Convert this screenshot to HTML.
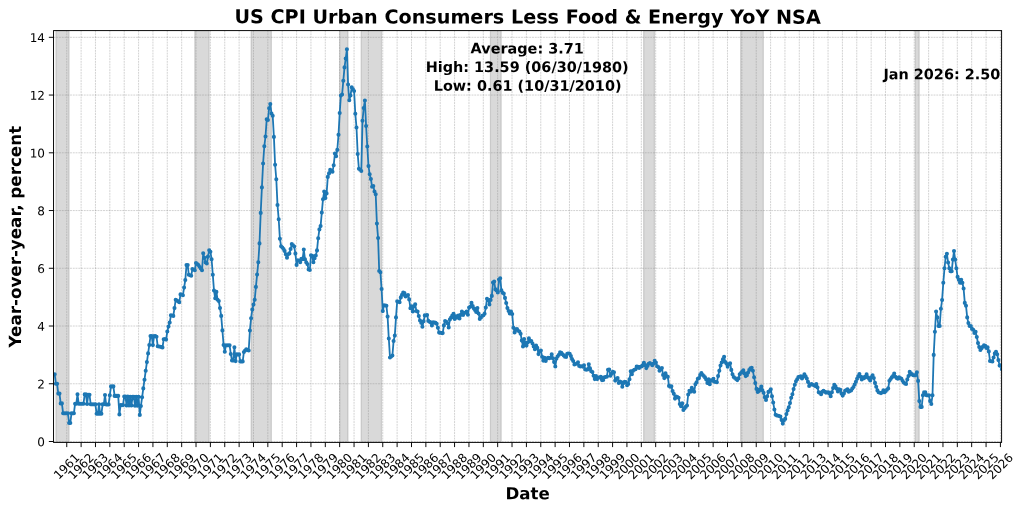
<!DOCTYPE html>
<html lang="en"><head><meta charset="utf-8"><title>US CPI Urban Consumers Less Food &amp; Energy YoY NSA</title>
<style>html,body{margin:0;padding:0;background:#fff}body{width:1024px;height:511px;overflow:hidden}svg{display:block}text{font-family:'DejaVu Sans','Liberation Sans',sans-serif;fill:#000;text-rendering:geometricPrecision}.b{font-weight:bold}.t{font-size:12.03px}</style></head><body>
<svg width="1024" height="511" viewBox="0 0 1024 511">
<rect width="1024" height="511" fill="#fff"/>
<defs><clipPath id="ax"><rect x="53.55" y="30.6" width="948.05" height="411.80"/></clipPath><filter id="bl" x="-2%" y="-2%" width="104%" height="104%"><feGaussianBlur stdDeviation="0.4"/></filter><filter id="bg" x="-2%" y="-2%" width="104%" height="104%"><feGaussianBlur stdDeviation="0.6"/></filter></defs>
<g clip-path="url(#ax)">
<rect x="55.95" y="30.6" width="13.10" height="411.80" fill="#808080" fill-opacity="0.3" stroke="#808080" stroke-opacity="0.3" stroke-width="1.2"/>
<rect x="194.81" y="30.6" width="14.31" height="411.80" fill="#808080" fill-opacity="0.3" stroke="#808080" stroke-opacity="0.3" stroke-width="1.2"/>
<rect x="251.09" y="30.6" width="20.25" height="411.80" fill="#808080" fill-opacity="0.3" stroke="#808080" stroke-opacity="0.3" stroke-width="1.2"/>
<rect x="339.65" y="30.6" width="8.34" height="411.80" fill="#808080" fill-opacity="0.3" stroke="#808080" stroke-opacity="0.3" stroke-width="1.2"/>
<rect x="361.16" y="30.6" width="20.33" height="411.80" fill="#808080" fill-opacity="0.3" stroke="#808080" stroke-opacity="0.3" stroke-width="1.2"/>
<rect x="490.43" y="30.6" width="10.74" height="411.80" fill="#808080" fill-opacity="0.3" stroke="#808080" stroke-opacity="0.3" stroke-width="1.2"/>
<rect x="643.65" y="30.6" width="10.78" height="411.80" fill="#808080" fill-opacity="0.3" stroke="#808080" stroke-opacity="0.3" stroke-width="1.2"/>
<rect x="740.63" y="30.6" width="22.69" height="411.80" fill="#808080" fill-opacity="0.3" stroke="#808080" stroke-opacity="0.3" stroke-width="1.2"/>
<rect x="915.28" y="30.6" width="3.89" height="411.80" fill="#808080" fill-opacity="0.3" stroke="#808080" stroke-opacity="0.3" stroke-width="1.2"/>
</g>
<path d="M66.76 30.6V442.4M81.12 30.6V442.4M95.47 30.6V442.4M109.83 30.6V442.4M124.22 30.6V442.4M138.57 30.6V442.4M152.93 30.6V442.4M167.28 30.6V442.4M181.68 30.6V442.4M196.03 30.6V442.4M210.39 30.6V442.4M224.74 30.6V442.4M239.13 30.6V442.4M253.49 30.6V442.4M267.84 30.6V442.4M282.20 30.6V442.4M296.59 30.6V442.4M310.94 30.6V442.4M325.30 30.6V442.4M339.65 30.6V442.4M354.05 30.6V442.4M368.40 30.6V442.4M382.75 30.6V442.4M397.11 30.6V442.4M411.50 30.6V442.4M425.86 30.6V442.4M440.21 30.6V442.4M454.56 30.6V442.4M468.96 30.6V442.4M483.31 30.6V442.4M497.67 30.6V442.4M512.02 30.6V442.4M526.41 30.6V442.4M540.77 30.6V442.4M555.12 30.6V442.4M569.48 30.6V442.4M583.87 30.6V442.4M598.23 30.6V442.4M612.58 30.6V442.4M626.93 30.6V442.4M641.33 30.6V442.4M655.68 30.6V442.4M670.04 30.6V442.4M684.39 30.6V442.4M698.78 30.6V442.4M713.14 30.6V442.4M727.49 30.6V442.4M741.85 30.6V442.4M756.24 30.6V442.4M770.59 30.6V442.4M784.95 30.6V442.4M799.30 30.6V442.4M813.70 30.6V442.4M828.05 30.6V442.4M842.41 30.6V442.4M856.76 30.6V442.4M871.15 30.6V442.4M885.51 30.6V442.4M899.86 30.6V442.4M914.22 30.6V442.4M928.61 30.6V442.4M942.96 30.6V442.4M957.32 30.6V442.4M971.67 30.6V442.4M986.07 30.6V442.4M1000.42 30.6V442.4" fill="none" stroke="#808080" stroke-opacity="0.5" stroke-width="0.7" stroke-dasharray="1.9 0.85" filter="url(#bg)"/>
<path d="M53.55 441.50H1001.6M53.55 383.76H1001.6M53.55 326.02H1001.6M53.55 268.28H1001.6M53.55 210.54H1001.6M53.55 152.80H1001.6M53.55 95.06H1001.6M53.55 37.32H1001.6" fill="none" stroke="#808080" stroke-opacity="0.5" stroke-width="0.7" stroke-dasharray="1.9 0.85" filter="url(#bg)"/>
<g clip-path="url(#ax)"><g filter="url(#bl)">
<path d="M54.7 374.2L55.9 383.8L57.1 383.8L58.3 393.6L59.5 393.6L60.7 403.4L61.9 403.4L63.1 413.2L64.3 413.2L65.5 413.2L66.7 413.2L67.9 413.2L69.1 423.0L70.3 423.0L71.5 413.2L72.7 413.2L73.9 413.2L75.1 403.7L76.3 403.7L77.5 394.2L78.7 403.7L79.9 403.7L81.1 403.7L82.3 403.7L83.5 403.7L84.7 394.4L85.9 394.4L87.1 404.0L88.3 394.7L89.5 394.7L90.7 404.3L91.8 404.3L93.0 404.3L94.2 404.3L95.4 404.3L96.6 413.8L97.8 413.8L99.0 404.3L100.2 413.8L101.4 413.8L102.6 404.3L103.8 404.3L105.0 395.0L106.2 404.5L107.4 404.5L108.6 404.5L109.8 395.3L111.0 386.4L112.2 386.4L113.4 386.4L114.6 395.9L115.8 395.9L117.0 395.9L118.2 395.9L119.4 414.4L120.6 405.1L121.8 405.1L123.0 405.1L124.2 396.5L125.4 396.5L126.6 405.4L127.8 396.5L129.0 405.4L130.2 396.8L131.4 405.4L132.6 396.8L133.8 396.8L135.0 405.7L136.2 396.8L137.4 405.7L138.6 396.8L139.8 414.9L140.9 406.0L142.1 397.3L143.3 388.4L144.5 379.7L145.7 370.8L146.9 362.1L148.1 353.4L149.3 345.1L150.5 336.1L151.7 336.1L152.9 345.1L154.1 336.1L155.3 336.1L156.5 336.7L157.7 346.2L158.9 346.5L160.1 346.8L161.3 347.1L162.5 347.4L163.7 339.3L164.9 339.0L166.1 339.6L167.3 331.5L168.5 326.6L169.7 322.6L170.9 315.3L172.1 315.6L173.3 315.9L174.5 308.1L175.7 299.7L176.9 300.5L178.1 301.4L179.3 302.2L180.5 294.4L181.7 294.8L182.9 295.2L184.1 287.6L185.3 280.1L186.5 265.1L187.7 265.1L188.8 274.8L190.0 275.3L191.2 275.8L192.4 269.0L193.6 269.6L194.8 270.3L196.0 263.1L197.2 264.1L198.4 265.1L199.6 266.7L200.8 268.4L202.0 270.3L203.2 253.3L204.4 257.9L205.6 262.5L206.8 263.5L208.0 256.6L209.2 250.2L210.4 251.7L211.6 259.2L212.8 274.8L214.0 290.5L215.2 298.3L216.4 291.9L217.6 299.7L218.8 301.1L220.0 308.1L221.2 315.9L222.4 330.4L223.6 345.0L224.8 351.7L226.0 345.2L227.2 345.2L228.4 345.2L229.6 345.2L230.8 354.0L232.0 360.5L233.2 360.5L234.4 347.3L235.6 361.1L236.7 354.4L237.9 354.4L239.1 354.4L240.3 361.4L241.5 361.4L242.7 361.4L243.9 352.0L245.1 350.6L246.3 349.3L247.5 349.9L248.7 350.5L249.9 330.5L251.1 318.2L252.3 309.5L253.5 304.6L254.7 299.8L255.9 286.9L257.1 274.6L258.3 262.2L259.5 243.4L260.7 212.9L261.9 187.4L263.1 163.5L264.3 146.3L265.5 136.5L266.7 119.3L267.9 120.0L269.1 108.3L270.3 104.1L271.5 113.5L272.7 115.8L273.9 136.9L275.1 164.7L276.3 179.2L277.5 205.0L278.7 219.2L279.9 238.7L281.1 246.3L282.3 247.5L283.5 249.0L284.6 250.9L285.8 254.3L287.0 257.8L288.2 254.3L289.4 253.4L290.6 249.0L291.8 244.1L293.0 245.3L294.2 246.5L295.4 253.6L296.6 264.9L297.8 260.2L299.0 260.7L300.2 262.2L301.4 258.8L302.6 259.1L303.8 249.5L305.0 259.2L306.2 262.2L307.4 264.1L308.6 269.5L309.8 270.0L311.0 255.3L312.2 255.8L313.4 262.2L314.6 258.3L315.8 255.5L317.0 250.4L318.2 238.2L319.4 229.4L320.6 226.1L321.8 212.6L323.0 199.2L324.2 191.5L325.4 198.1L326.6 193.4L327.8 176.9L329.0 173.4L330.2 169.9L331.4 170.8L332.5 171.8L333.7 165.2L334.9 153.5L336.1 156.3L337.3 149.9L338.5 134.7L339.7 113.0L340.9 95.5L342.1 94.5L343.3 80.8L344.5 67.4L345.7 58.5L346.9 49.3L348.1 84.5L349.3 100.3L350.5 95.5L351.7 87.3L352.9 89.1L354.1 91.0L355.3 113.7L356.5 127.5L357.7 154.0L358.9 168.7L360.1 169.8L361.3 171.0L362.5 120.7L363.7 108.0L364.9 100.5L366.1 126.0L367.3 146.5L368.5 166.1L369.7 174.3L370.9 179.0L372.1 186.8L373.3 186.0L374.5 191.5L375.7 194.2L376.9 223.6L378.1 238.1L379.2 271.0L380.4 272.3L381.6 289.0L382.8 311.1L384.0 305.2L385.2 305.5L386.4 305.8L387.6 316.6L388.8 338.5L390.0 357.5L391.2 356.5L392.4 355.5L393.6 341.0L394.8 335.6L396.0 317.4L397.2 301.3L398.4 301.8L399.6 302.3L400.8 297.4L402.0 294.9L403.2 292.5L404.4 293.1L405.6 296.4L406.8 295.7L408.0 295.1L409.2 299.4L410.4 308.2L411.6 306.2L412.8 311.5L414.0 306.2L415.2 304.2L416.4 311.1L417.6 311.5L418.8 316.0L420.0 320.5L421.2 322.8L422.4 326.8L423.6 321.3L424.8 315.4L426.0 315.2L427.1 315.0L428.3 320.9L429.5 321.7L430.7 322.4L431.9 325.5L433.1 322.4L434.3 322.6L435.5 322.8L436.7 323.8L437.9 327.7L439.1 332.6L440.3 332.8L441.5 333.0L442.7 333.1L443.9 325.4L445.1 321.1L446.3 321.8L447.5 323.3L448.7 327.4L449.9 319.4L451.1 317.6L452.3 315.6L453.5 313.7L454.7 318.9L455.9 316.4L457.1 317.4L458.3 315.6L459.5 318.4L460.7 314.9L461.9 311.5L463.1 314.9L464.3 313.0L465.5 312.5L466.7 311.5L467.9 314.7L469.1 307.6L470.3 306.8L471.5 302.9L472.7 306.1L473.9 308.6L475.0 310.1L476.2 312.0L477.4 308.1L478.6 313.5L479.8 318.9L481.0 317.4L482.2 315.9L483.4 315.2L484.6 313.7L485.8 307.6L487.0 298.8L488.2 300.3L489.4 304.5L490.6 299.9L491.8 295.9L493.0 282.6L494.2 281.6L495.4 289.4L496.6 290.4L497.8 292.4L499.0 279.5L500.2 278.2L501.4 290.4L502.6 292.8L503.8 293.6L505.0 297.9L506.2 303.0L507.4 308.1L508.6 311.0L509.8 313.5L511.0 311.5L512.2 314.0L513.4 327.7L514.6 332.5L515.8 329.3L517.0 329.0L518.2 330.8L519.4 331.6L520.6 333.7L521.8 340.6L523.0 346.4L524.1 339.1L525.3 343.0L526.5 345.6L527.7 342.5L528.9 338.4L530.1 341.0L531.3 341.0L532.5 343.5L533.7 346.4L534.9 349.2L536.1 345.6L537.3 347.9L538.5 354.1L539.7 351.3L540.9 350.5L542.1 356.7L543.3 360.6L544.5 357.7L545.7 360.9L546.9 358.6L548.1 357.7L549.3 358.2L550.5 357.7L551.7 354.4L552.9 358.2L554.1 362.1L555.3 366.5L556.5 358.6L557.7 356.2L558.9 354.7L560.1 352.3L561.3 352.8L562.5 354.2L563.7 355.4L564.9 356.7L566.1 357.0L567.3 353.8L568.5 353.5L569.7 353.8L570.9 356.1L572.0 359.1L573.2 361.0L574.4 364.5L575.6 364.0L576.8 363.5L578.0 362.3L579.2 365.9L580.4 366.4L581.6 366.2L582.8 366.6L584.0 365.2L585.2 369.4L586.4 369.8L587.6 369.4L588.8 364.3L590.0 368.4L591.2 371.3L592.4 372.1L593.6 375.7L594.8 379.1L596.0 376.0L597.2 379.1L598.4 377.7L599.6 377.4L600.8 376.7L602.0 380.1L603.2 379.9L604.4 377.2L605.6 377.0L606.8 376.7L608.0 369.8L609.2 369.6L610.4 375.7L611.6 373.8L612.8 371.8L614.0 372.3L615.2 380.6L616.4 379.1L617.6 378.0L618.8 382.9L619.9 381.6L621.1 382.1L622.3 386.8L623.5 383.1L624.7 381.9L625.9 382.1L627.1 385.2L628.3 384.0L629.5 379.3L630.7 371.3L631.9 374.2L633.1 370.8L634.3 369.8L635.5 369.2L636.7 366.6L637.9 366.9L639.1 367.9L640.3 366.9L641.5 366.4L642.7 365.4L643.9 362.7L645.1 365.1L646.3 368.1L647.5 365.9L648.7 363.7L649.9 363.0L651.1 364.0L652.3 365.3L653.5 363.7L654.7 360.7L655.9 362.6L657.1 366.2L658.3 367.1L659.5 370.8L660.7 369.4L661.9 368.1L663.1 374.9L664.3 378.1L665.5 373.3L666.6 376.0L667.8 376.7L669.0 385.9L670.2 386.7L671.4 386.3L672.6 391.1L673.8 393.8L675.0 398.6L676.2 396.6L677.4 397.1L678.6 397.7L679.8 404.1L681.0 406.2L682.2 403.4L683.4 410.0L684.6 408.2L685.8 406.9L687.0 405.5L688.2 394.5L689.4 390.8L690.6 391.8L691.8 387.7L693.0 389.7L694.2 391.8L695.4 384.2L696.6 382.2L697.8 378.8L699.0 378.1L700.2 374.9L701.4 373.0L702.6 374.7L703.8 376.0L705.0 377.4L706.2 379.4L707.4 382.9L708.6 379.4L709.8 384.2L711.0 380.4L712.2 380.8L713.4 378.8L714.5 381.8L715.7 382.0L716.9 382.2L718.1 376.1L719.3 370.8L720.5 365.5L721.7 362.5L722.9 359.4L724.1 356.7L725.3 362.0L726.5 363.8L727.7 366.8L728.9 364.3L730.1 363.2L731.3 369.9L732.5 374.3L733.7 377.0L734.9 378.0L736.1 379.1L737.3 380.1L738.5 378.4L739.7 374.3L740.9 373.0L742.1 371.7L743.3 370.3L744.5 373.4L745.7 376.1L746.9 375.2L748.1 372.6L749.3 369.9L750.5 368.2L751.7 367.8L752.9 370.8L754.1 377.3L755.3 383.1L756.5 388.9L757.7 391.9L758.9 391.1L760.1 389.3L761.3 386.6L762.4 390.2L763.6 392.8L764.8 397.2L766.0 399.9L767.2 396.3L768.4 391.9L769.6 391.1L770.8 389.3L772.0 396.3L773.2 402.5L774.4 409.5L775.6 414.8L776.8 415.4L778.0 415.7L779.2 416.1L780.4 416.6L781.6 420.1L782.8 423.6L784.0 420.3L785.2 418.9L786.4 414.1L787.6 410.4L788.8 407.3L790.0 403.1L791.2 397.7L792.4 394.2L793.6 389.1L794.8 384.7L796.0 381.2L797.2 379.2L798.4 377.1L799.6 376.8L800.8 376.4L802.0 378.5L803.2 376.7L804.4 374.4L805.6 376.2L806.8 378.5L808.0 381.9L809.2 386.0L810.4 384.7L811.5 384.0L812.7 384.7L813.9 385.3L815.1 386.0L816.3 384.0L817.5 387.4L818.7 392.2L819.9 392.9L821.1 394.2L822.3 391.8L823.5 390.8L824.7 391.8L825.9 392.6L827.1 392.4L828.3 392.2L829.5 393.6L830.7 396.3L831.9 392.2L833.1 388.1L834.3 384.9L835.5 386.3L836.7 388.8L837.9 391.5L839.1 389.4L840.3 389.9L841.5 393.6L842.7 395.6L843.9 393.6L845.1 390.8L846.3 390.1L847.5 389.4L848.7 391.8L849.9 391.1L851.1 390.4L852.3 388.6L853.5 387.0L854.7 384.5L855.9 381.8L857.1 378.8L858.2 376.3L859.4 374.0L860.6 376.7L861.8 379.4L863.0 377.4L864.2 378.1L865.4 376.7L866.6 374.4L867.8 377.4L869.0 378.8L870.2 380.4L871.4 377.4L872.6 375.3L873.8 378.1L875.0 382.9L876.2 386.7L877.4 390.4L878.6 392.2L879.8 392.7L881.0 393.1L882.2 392.5L883.4 390.4L884.6 392.2L885.8 391.1L887.0 389.7L888.2 388.4L889.4 380.8L890.6 379.0L891.8 377.4L893.0 376.0L894.2 373.6L895.4 376.7L896.6 378.1L897.8 378.8L899.0 377.4L900.2 378.1L901.4 378.8L902.6 380.8L903.8 382.6L905.0 383.6L906.1 384.0L907.3 379.4L908.5 376.0L909.7 371.9L910.9 373.3L912.1 374.4L913.3 375.3L914.5 375.2L915.7 375.1L916.9 372.2L918.1 380.9L919.3 401.1L920.5 406.9L921.7 406.9L922.9 395.3L924.1 392.4L925.3 392.4L926.5 395.3L927.7 395.3L928.9 395.3L930.1 401.1L931.3 404.0L932.5 395.3L933.7 354.9L934.9 331.8L936.1 311.6L937.3 317.4L938.5 326.0L939.7 326.0L940.9 308.7L942.1 300.0L943.3 282.7L944.5 268.3L945.7 256.7L946.9 253.8L948.1 262.5L949.3 268.3L950.5 271.2L951.7 271.2L952.9 259.6L954.0 251.0L955.2 259.6L956.4 268.3L957.6 276.9L958.8 279.8L960.0 282.7L961.2 279.8L962.4 282.7L963.6 288.5L964.8 302.9L966.0 305.8L967.2 317.4L968.4 323.1L969.6 326.0L970.8 326.0L972.0 328.9L973.2 329.8L974.4 332.9L975.6 331.8L976.8 337.0L978.0 343.1L979.2 347.1L980.4 350.0L981.6 348.2L982.8 346.8L984.0 345.4L985.2 345.7L986.4 348.0L987.6 347.4L988.8 351.4L990.0 361.0L991.2 361.2L992.4 361.5L993.6 357.5L994.8 353.4L996.0 351.7L997.2 354.3L998.4 360.1L999.6 365.6L1000.8 365.3L1001.9 369.3" fill="none" stroke="#1f77b4" stroke-width="1.8" stroke-linejoin="round" stroke-linecap="round"/>
<path d="M54.7 374.2h0M55.9 383.8h0M57.1 383.8h0M58.3 393.6h0M59.5 393.6h0M60.7 403.4h0M61.9 403.4h0M63.1 413.2h0M64.3 413.2h0M65.5 413.2h0M66.7 413.2h0M67.9 413.2h0M69.1 423.0h0M70.3 423.0h0M71.5 413.2h0M72.7 413.2h0M73.9 413.2h0M75.1 403.7h0M76.3 403.7h0M77.5 394.2h0M78.7 403.7h0M79.9 403.7h0M81.1 403.7h0M82.3 403.7h0M83.5 403.7h0M84.7 394.4h0M85.9 394.4h0M87.1 404.0h0M88.3 394.7h0M89.5 394.7h0M90.7 404.3h0M91.8 404.3h0M93.0 404.3h0M94.2 404.3h0M95.4 404.3h0M96.6 413.8h0M97.8 413.8h0M99.0 404.3h0M100.2 413.8h0M101.4 413.8h0M102.6 404.3h0M103.8 404.3h0M105.0 395.0h0M106.2 404.5h0M107.4 404.5h0M108.6 404.5h0M109.8 395.3h0M111.0 386.4h0M112.2 386.4h0M113.4 386.4h0M114.6 395.9h0M115.8 395.9h0M117.0 395.9h0M118.2 395.9h0M119.4 414.4h0M120.6 405.1h0M121.8 405.1h0M123.0 405.1h0M124.2 396.5h0M125.4 396.5h0M126.6 405.4h0M127.8 396.5h0M129.0 405.4h0M130.2 396.8h0M131.4 405.4h0M132.6 396.8h0M133.8 396.8h0M135.0 405.7h0M136.2 396.8h0M137.4 405.7h0M138.6 396.8h0M139.8 414.9h0M140.9 406.0h0M142.1 397.3h0M143.3 388.4h0M144.5 379.7h0M145.7 370.8h0M146.9 362.1h0M148.1 353.4h0M149.3 345.1h0M150.5 336.1h0M151.7 336.1h0M152.9 345.1h0M154.1 336.1h0M155.3 336.1h0M156.5 336.7h0M157.7 346.2h0M158.9 346.5h0M160.1 346.8h0M161.3 347.1h0M162.5 347.4h0M163.7 339.3h0M164.9 339.0h0M166.1 339.6h0M167.3 331.5h0M168.5 326.6h0M169.7 322.6h0M170.9 315.3h0M172.1 315.6h0M173.3 315.9h0M174.5 308.1h0M175.7 299.7h0M176.9 300.5h0M178.1 301.4h0M179.3 302.2h0M180.5 294.4h0M181.7 294.8h0M182.9 295.2h0M184.1 287.6h0M185.3 280.1h0M186.5 265.1h0M187.7 265.1h0M188.8 274.8h0M190.0 275.3h0M191.2 275.8h0M192.4 269.0h0M193.6 269.6h0M194.8 270.3h0M196.0 263.1h0M197.2 264.1h0M198.4 265.1h0M199.6 266.7h0M200.8 268.4h0M202.0 270.3h0M203.2 253.3h0M204.4 257.9h0M205.6 262.5h0M206.8 263.5h0M208.0 256.6h0M209.2 250.2h0M210.4 251.7h0M211.6 259.2h0M212.8 274.8h0M214.0 290.5h0M215.2 298.3h0M216.4 291.9h0M217.6 299.7h0M218.8 301.1h0M220.0 308.1h0M221.2 315.9h0M222.4 330.4h0M223.6 345.0h0M224.8 351.7h0M226.0 345.2h0M227.2 345.2h0M228.4 345.2h0M229.6 345.2h0M230.8 354.0h0M232.0 360.5h0M233.2 360.5h0M234.4 347.3h0M235.6 361.1h0M236.7 354.4h0M237.9 354.4h0M239.1 354.4h0M240.3 361.4h0M241.5 361.4h0M242.7 361.4h0M243.9 352.0h0M245.1 350.6h0M246.3 349.3h0M247.5 349.9h0M248.7 350.5h0M249.9 330.5h0M251.1 318.2h0M252.3 309.5h0M253.5 304.6h0M254.7 299.8h0M255.9 286.9h0M257.1 274.6h0M258.3 262.2h0M259.5 243.4h0M260.7 212.9h0M261.9 187.4h0M263.1 163.5h0M264.3 146.3h0M265.5 136.5h0M266.7 119.3h0M267.9 120.0h0M269.1 108.3h0M270.3 104.1h0M271.5 113.5h0M272.7 115.8h0M273.9 136.9h0M275.1 164.7h0M276.3 179.2h0M277.5 205.0h0M278.7 219.2h0M279.9 238.7h0M281.1 246.3h0M282.3 247.5h0M283.5 249.0h0M284.6 250.9h0M285.8 254.3h0M287.0 257.8h0M288.2 254.3h0M289.4 253.4h0M290.6 249.0h0M291.8 244.1h0M293.0 245.3h0M294.2 246.5h0M295.4 253.6h0M296.6 264.9h0M297.8 260.2h0M299.0 260.7h0M300.2 262.2h0M301.4 258.8h0M302.6 259.1h0M303.8 249.5h0M305.0 259.2h0M306.2 262.2h0M307.4 264.1h0M308.6 269.5h0M309.8 270.0h0M311.0 255.3h0M312.2 255.8h0M313.4 262.2h0M314.6 258.3h0M315.8 255.5h0M317.0 250.4h0M318.2 238.2h0M319.4 229.4h0M320.6 226.1h0M321.8 212.6h0M323.0 199.2h0M324.2 191.5h0M325.4 198.1h0M326.6 193.4h0M327.8 176.9h0M329.0 173.4h0M330.2 169.9h0M331.4 170.8h0M332.5 171.8h0M333.7 165.2h0M334.9 153.5h0M336.1 156.3h0M337.3 149.9h0M338.5 134.7h0M339.7 113.0h0M340.9 95.5h0M342.1 94.5h0M343.3 80.8h0M344.5 67.4h0M345.7 58.5h0M346.9 49.3h0M348.1 84.5h0M349.3 100.3h0M350.5 95.5h0M351.7 87.3h0M352.9 89.1h0M354.1 91.0h0M355.3 113.7h0M356.5 127.5h0M357.7 154.0h0M358.9 168.7h0M360.1 169.8h0M361.3 171.0h0M362.5 120.7h0M363.7 108.0h0M364.9 100.5h0M366.1 126.0h0M367.3 146.5h0M368.5 166.1h0M369.7 174.3h0M370.9 179.0h0M372.1 186.8h0M373.3 186.0h0M374.5 191.5h0M375.7 194.2h0M376.9 223.6h0M378.1 238.1h0M379.2 271.0h0M380.4 272.3h0M381.6 289.0h0M382.8 311.1h0M384.0 305.2h0M385.2 305.5h0M386.4 305.8h0M387.6 316.6h0M388.8 338.5h0M390.0 357.5h0M391.2 356.5h0M392.4 355.5h0M393.6 341.0h0M394.8 335.6h0M396.0 317.4h0M397.2 301.3h0M398.4 301.8h0M399.6 302.3h0M400.8 297.4h0M402.0 294.9h0M403.2 292.5h0M404.4 293.1h0M405.6 296.4h0M406.8 295.7h0M408.0 295.1h0M409.2 299.4h0M410.4 308.2h0M411.6 306.2h0M412.8 311.5h0M414.0 306.2h0M415.2 304.2h0M416.4 311.1h0M417.6 311.5h0M418.8 316.0h0M420.0 320.5h0M421.2 322.8h0M422.4 326.8h0M423.6 321.3h0M424.8 315.4h0M426.0 315.2h0M427.1 315.0h0M428.3 320.9h0M429.5 321.7h0M430.7 322.4h0M431.9 325.5h0M433.1 322.4h0M434.3 322.6h0M435.5 322.8h0M436.7 323.8h0M437.9 327.7h0M439.1 332.6h0M440.3 332.8h0M441.5 333.0h0M442.7 333.1h0M443.9 325.4h0M445.1 321.1h0M446.3 321.8h0M447.5 323.3h0M448.7 327.4h0M449.9 319.4h0M451.1 317.6h0M452.3 315.6h0M453.5 313.7h0M454.7 318.9h0M455.9 316.4h0M457.1 317.4h0M458.3 315.6h0M459.5 318.4h0M460.7 314.9h0M461.9 311.5h0M463.1 314.9h0M464.3 313.0h0M465.5 312.5h0M466.7 311.5h0M467.9 314.7h0M469.1 307.6h0M470.3 306.8h0M471.5 302.9h0M472.7 306.1h0M473.9 308.6h0M475.0 310.1h0M476.2 312.0h0M477.4 308.1h0M478.6 313.5h0M479.8 318.9h0M481.0 317.4h0M482.2 315.9h0M483.4 315.2h0M484.6 313.7h0M485.8 307.6h0M487.0 298.8h0M488.2 300.3h0M489.4 304.5h0M490.6 299.9h0M491.8 295.9h0M493.0 282.6h0M494.2 281.6h0M495.4 289.4h0M496.6 290.4h0M497.8 292.4h0M499.0 279.5h0M500.2 278.2h0M501.4 290.4h0M502.6 292.8h0M503.8 293.6h0M505.0 297.9h0M506.2 303.0h0M507.4 308.1h0M508.6 311.0h0M509.8 313.5h0M511.0 311.5h0M512.2 314.0h0M513.4 327.7h0M514.6 332.5h0M515.8 329.3h0M517.0 329.0h0M518.2 330.8h0M519.4 331.6h0M520.6 333.7h0M521.8 340.6h0M523.0 346.4h0M524.1 339.1h0M525.3 343.0h0M526.5 345.6h0M527.7 342.5h0M528.9 338.4h0M530.1 341.0h0M531.3 341.0h0M532.5 343.5h0M533.7 346.4h0M534.9 349.2h0M536.1 345.6h0M537.3 347.9h0M538.5 354.1h0M539.7 351.3h0M540.9 350.5h0M542.1 356.7h0M543.3 360.6h0M544.5 357.7h0M545.7 360.9h0M546.9 358.6h0M548.1 357.7h0M549.3 358.2h0M550.5 357.7h0M551.7 354.4h0M552.9 358.2h0M554.1 362.1h0M555.3 366.5h0M556.5 358.6h0M557.7 356.2h0M558.9 354.7h0M560.1 352.3h0M561.3 352.8h0M562.5 354.2h0M563.7 355.4h0M564.9 356.7h0M566.1 357.0h0M567.3 353.8h0M568.5 353.5h0M569.7 353.8h0M570.9 356.1h0M572.0 359.1h0M573.2 361.0h0M574.4 364.5h0M575.6 364.0h0M576.8 363.5h0M578.0 362.3h0M579.2 365.9h0M580.4 366.4h0M581.6 366.2h0M582.8 366.6h0M584.0 365.2h0M585.2 369.4h0M586.4 369.8h0M587.6 369.4h0M588.8 364.3h0M590.0 368.4h0M591.2 371.3h0M592.4 372.1h0M593.6 375.7h0M594.8 379.1h0M596.0 376.0h0M597.2 379.1h0M598.4 377.7h0M599.6 377.4h0M600.8 376.7h0M602.0 380.1h0M603.2 379.9h0M604.4 377.2h0M605.6 377.0h0M606.8 376.7h0M608.0 369.8h0M609.2 369.6h0M610.4 375.7h0M611.6 373.8h0M612.8 371.8h0M614.0 372.3h0M615.2 380.6h0M616.4 379.1h0M617.6 378.0h0M618.8 382.9h0M619.9 381.6h0M621.1 382.1h0M622.3 386.8h0M623.5 383.1h0M624.7 381.9h0M625.9 382.1h0M627.1 385.2h0M628.3 384.0h0M629.5 379.3h0M630.7 371.3h0M631.9 374.2h0M633.1 370.8h0M634.3 369.8h0M635.5 369.2h0M636.7 366.6h0M637.9 366.9h0M639.1 367.9h0M640.3 366.9h0M641.5 366.4h0M642.7 365.4h0M643.9 362.7h0M645.1 365.1h0M646.3 368.1h0M647.5 365.9h0M648.7 363.7h0M649.9 363.0h0M651.1 364.0h0M652.3 365.3h0M653.5 363.7h0M654.7 360.7h0M655.9 362.6h0M657.1 366.2h0M658.3 367.1h0M659.5 370.8h0M660.7 369.4h0M661.9 368.1h0M663.1 374.9h0M664.3 378.1h0M665.5 373.3h0M666.6 376.0h0M667.8 376.7h0M669.0 385.9h0M670.2 386.7h0M671.4 386.3h0M672.6 391.1h0M673.8 393.8h0M675.0 398.6h0M676.2 396.6h0M677.4 397.1h0M678.6 397.7h0M679.8 404.1h0M681.0 406.2h0M682.2 403.4h0M683.4 410.0h0M684.6 408.2h0M685.8 406.9h0M687.0 405.5h0M688.2 394.5h0M689.4 390.8h0M690.6 391.8h0M691.8 387.7h0M693.0 389.7h0M694.2 391.8h0M695.4 384.2h0M696.6 382.2h0M697.8 378.8h0M699.0 378.1h0M700.2 374.9h0M701.4 373.0h0M702.6 374.7h0M703.8 376.0h0M705.0 377.4h0M706.2 379.4h0M707.4 382.9h0M708.6 379.4h0M709.8 384.2h0M711.0 380.4h0M712.2 380.8h0M713.4 378.8h0M714.5 381.8h0M715.7 382.0h0M716.9 382.2h0M718.1 376.1h0M719.3 370.8h0M720.5 365.5h0M721.7 362.5h0M722.9 359.4h0M724.1 356.7h0M725.3 362.0h0M726.5 363.8h0M727.7 366.8h0M728.9 364.3h0M730.1 363.2h0M731.3 369.9h0M732.5 374.3h0M733.7 377.0h0M734.9 378.0h0M736.1 379.1h0M737.3 380.1h0M738.5 378.4h0M739.7 374.3h0M740.9 373.0h0M742.1 371.7h0M743.3 370.3h0M744.5 373.4h0M745.7 376.1h0M746.9 375.2h0M748.1 372.6h0M749.3 369.9h0M750.5 368.2h0M751.7 367.8h0M752.9 370.8h0M754.1 377.3h0M755.3 383.1h0M756.5 388.9h0M757.7 391.9h0M758.9 391.1h0M760.1 389.3h0M761.3 386.6h0M762.4 390.2h0M763.6 392.8h0M764.8 397.2h0M766.0 399.9h0M767.2 396.3h0M768.4 391.9h0M769.6 391.1h0M770.8 389.3h0M772.0 396.3h0M773.2 402.5h0M774.4 409.5h0M775.6 414.8h0M776.8 415.4h0M778.0 415.7h0M779.2 416.1h0M780.4 416.6h0M781.6 420.1h0M782.8 423.6h0M784.0 420.3h0M785.2 418.9h0M786.4 414.1h0M787.6 410.4h0M788.8 407.3h0M790.0 403.1h0M791.2 397.7h0M792.4 394.2h0M793.6 389.1h0M794.8 384.7h0M796.0 381.2h0M797.2 379.2h0M798.4 377.1h0M799.6 376.8h0M800.8 376.4h0M802.0 378.5h0M803.2 376.7h0M804.4 374.4h0M805.6 376.2h0M806.8 378.5h0M808.0 381.9h0M809.2 386.0h0M810.4 384.7h0M811.5 384.0h0M812.7 384.7h0M813.9 385.3h0M815.1 386.0h0M816.3 384.0h0M817.5 387.4h0M818.7 392.2h0M819.9 392.9h0M821.1 394.2h0M822.3 391.8h0M823.5 390.8h0M824.7 391.8h0M825.9 392.6h0M827.1 392.4h0M828.3 392.2h0M829.5 393.6h0M830.7 396.3h0M831.9 392.2h0M833.1 388.1h0M834.3 384.9h0M835.5 386.3h0M836.7 388.8h0M837.9 391.5h0M839.1 389.4h0M840.3 389.9h0M841.5 393.6h0M842.7 395.6h0M843.9 393.6h0M845.1 390.8h0M846.3 390.1h0M847.5 389.4h0M848.7 391.8h0M849.9 391.1h0M851.1 390.4h0M852.3 388.6h0M853.5 387.0h0M854.7 384.5h0M855.9 381.8h0M857.1 378.8h0M858.2 376.3h0M859.4 374.0h0M860.6 376.7h0M861.8 379.4h0M863.0 377.4h0M864.2 378.1h0M865.4 376.7h0M866.6 374.4h0M867.8 377.4h0M869.0 378.8h0M870.2 380.4h0M871.4 377.4h0M872.6 375.3h0M873.8 378.1h0M875.0 382.9h0M876.2 386.7h0M877.4 390.4h0M878.6 392.2h0M879.8 392.7h0M881.0 393.1h0M882.2 392.5h0M883.4 390.4h0M884.6 392.2h0M885.8 391.1h0M887.0 389.7h0M888.2 388.4h0M889.4 380.8h0M890.6 379.0h0M891.8 377.4h0M893.0 376.0h0M894.2 373.6h0M895.4 376.7h0M896.6 378.1h0M897.8 378.8h0M899.0 377.4h0M900.2 378.1h0M901.4 378.8h0M902.6 380.8h0M903.8 382.6h0M905.0 383.6h0M906.1 384.0h0M907.3 379.4h0M908.5 376.0h0M909.7 371.9h0M910.9 373.3h0M912.1 374.4h0M913.3 375.3h0M914.5 375.2h0M915.7 375.1h0M916.9 372.2h0M918.1 380.9h0M919.3 401.1h0M920.5 406.9h0M921.7 406.9h0M922.9 395.3h0M924.1 392.4h0M925.3 392.4h0M926.5 395.3h0M927.7 395.3h0M928.9 395.3h0M930.1 401.1h0M931.3 404.0h0M932.5 395.3h0M933.7 354.9h0M934.9 331.8h0M936.1 311.6h0M937.3 317.4h0M938.5 326.0h0M939.7 326.0h0M940.9 308.7h0M942.1 300.0h0M943.3 282.7h0M944.5 268.3h0M945.7 256.7h0M946.9 253.8h0M948.1 262.5h0M949.3 268.3h0M950.5 271.2h0M951.7 271.2h0M952.9 259.6h0M954.0 251.0h0M955.2 259.6h0M956.4 268.3h0M957.6 276.9h0M958.8 279.8h0M960.0 282.7h0M961.2 279.8h0M962.4 282.7h0M963.6 288.5h0M964.8 302.9h0M966.0 305.8h0M967.2 317.4h0M968.4 323.1h0M969.6 326.0h0M970.8 326.0h0M972.0 328.9h0M973.2 329.8h0M974.4 332.9h0M975.6 331.8h0M976.8 337.0h0M978.0 343.1h0M979.2 347.1h0M980.4 350.0h0M981.6 348.2h0M982.8 346.8h0M984.0 345.4h0M985.2 345.7h0M986.4 348.0h0M987.6 347.4h0M988.8 351.4h0M990.0 361.0h0M991.2 361.2h0M992.4 361.5h0M993.6 357.5h0M994.8 353.4h0M996.0 351.7h0M997.2 354.3h0M998.4 360.1h0M999.6 365.6h0M1000.8 365.3h0M1001.9 369.3h0" fill="none" stroke="#1f77b4" stroke-width="4.1" stroke-linecap="round"/>
</g></g>
<rect x="53.55" y="30.6" width="948.05" height="411.80" fill="none" stroke="#000" stroke-width="0.96"/>
<path d="M66.76 442.4v4.7M81.12 442.4v4.7M95.47 442.4v4.7M109.83 442.4v4.7M124.22 442.4v4.7M138.57 442.4v4.7M152.93 442.4v4.7M167.28 442.4v4.7M181.68 442.4v4.7M196.03 442.4v4.7M210.39 442.4v4.7M224.74 442.4v4.7M239.13 442.4v4.7M253.49 442.4v4.7M267.84 442.4v4.7M282.20 442.4v4.7M296.59 442.4v4.7M310.94 442.4v4.7M325.30 442.4v4.7M339.65 442.4v4.7M354.05 442.4v4.7M368.40 442.4v4.7M382.75 442.4v4.7M397.11 442.4v4.7M411.50 442.4v4.7M425.86 442.4v4.7M440.21 442.4v4.7M454.56 442.4v4.7M468.96 442.4v4.7M483.31 442.4v4.7M497.67 442.4v4.7M512.02 442.4v4.7M526.41 442.4v4.7M540.77 442.4v4.7M555.12 442.4v4.7M569.48 442.4v4.7M583.87 442.4v4.7M598.23 442.4v4.7M612.58 442.4v4.7M626.93 442.4v4.7M641.33 442.4v4.7M655.68 442.4v4.7M670.04 442.4v4.7M684.39 442.4v4.7M698.78 442.4v4.7M713.14 442.4v4.7M727.49 442.4v4.7M741.85 442.4v4.7M756.24 442.4v4.7M770.59 442.4v4.7M784.95 442.4v4.7M799.30 442.4v4.7M813.70 442.4v4.7M828.05 442.4v4.7M842.41 442.4v4.7M856.76 442.4v4.7M871.15 442.4v4.7M885.51 442.4v4.7M899.86 442.4v4.7M914.22 442.4v4.7M928.61 442.4v4.7M942.96 442.4v4.7M957.32 442.4v4.7M971.67 442.4v4.7M986.07 442.4v4.7M1000.42 442.4v4.7M53.55 441.50h-4.7M53.55 383.76h-4.7M53.55 326.02h-4.7M53.55 268.28h-4.7M53.55 210.54h-4.7M53.55 152.80h-4.7M53.55 95.06h-4.7M53.55 37.32h-4.7" fill="none" stroke="#000" stroke-width="0.96"/>
<text class="t" transform="translate(45.0 446.30) rotate(0.03)" text-anchor="end">0</text>
<text class="t" transform="translate(45.0 388.56) rotate(0.03)" text-anchor="end">2</text>
<text class="t" transform="translate(45.0 330.82) rotate(0.03)" text-anchor="end">4</text>
<text class="t" transform="translate(45.0 273.08) rotate(0.03)" text-anchor="end">6</text>
<text class="t" transform="translate(45.0 215.34) rotate(0.03)" text-anchor="end">8</text>
<text class="t" transform="translate(45.0 157.60) rotate(0.03)" text-anchor="end">10</text>
<text class="t" transform="translate(45.0 99.86) rotate(0.03)" text-anchor="end">12</text>
<text class="t" transform="translate(45.0 42.12) rotate(0.03)" text-anchor="end">14</text>
<text class="t" transform="translate(66.36 466.15) rotate(-45)" text-anchor="middle" y="4.4">1961</text>
<text class="t" transform="translate(80.72 466.15) rotate(-45)" text-anchor="middle" y="4.4">1962</text>
<text class="t" transform="translate(95.07 466.15) rotate(-45)" text-anchor="middle" y="4.4">1963</text>
<text class="t" transform="translate(109.43 466.15) rotate(-45)" text-anchor="middle" y="4.4">1964</text>
<text class="t" transform="translate(123.82 466.15) rotate(-45)" text-anchor="middle" y="4.4">1965</text>
<text class="t" transform="translate(138.17 466.15) rotate(-45)" text-anchor="middle" y="4.4">1966</text>
<text class="t" transform="translate(152.53 466.15) rotate(-45)" text-anchor="middle" y="4.4">1967</text>
<text class="t" transform="translate(166.88 466.15) rotate(-45)" text-anchor="middle" y="4.4">1968</text>
<text class="t" transform="translate(181.28 466.15) rotate(-45)" text-anchor="middle" y="4.4">1969</text>
<text class="t" transform="translate(195.63 466.15) rotate(-45)" text-anchor="middle" y="4.4">1970</text>
<text class="t" transform="translate(209.99 466.15) rotate(-45)" text-anchor="middle" y="4.4">1971</text>
<text class="t" transform="translate(224.34 466.15) rotate(-45)" text-anchor="middle" y="4.4">1972</text>
<text class="t" transform="translate(238.73 466.15) rotate(-45)" text-anchor="middle" y="4.4">1973</text>
<text class="t" transform="translate(253.09 466.15) rotate(-45)" text-anchor="middle" y="4.4">1974</text>
<text class="t" transform="translate(267.44 466.15) rotate(-45)" text-anchor="middle" y="4.4">1975</text>
<text class="t" transform="translate(281.80 466.15) rotate(-45)" text-anchor="middle" y="4.4">1976</text>
<text class="t" transform="translate(296.19 466.15) rotate(-45)" text-anchor="middle" y="4.4">1977</text>
<text class="t" transform="translate(310.54 466.15) rotate(-45)" text-anchor="middle" y="4.4">1978</text>
<text class="t" transform="translate(324.90 466.15) rotate(-45)" text-anchor="middle" y="4.4">1979</text>
<text class="t" transform="translate(339.25 466.15) rotate(-45)" text-anchor="middle" y="4.4">1980</text>
<text class="t" transform="translate(353.65 466.15) rotate(-45)" text-anchor="middle" y="4.4">1981</text>
<text class="t" transform="translate(368.00 466.15) rotate(-45)" text-anchor="middle" y="4.4">1982</text>
<text class="t" transform="translate(382.35 466.15) rotate(-45)" text-anchor="middle" y="4.4">1983</text>
<text class="t" transform="translate(396.71 466.15) rotate(-45)" text-anchor="middle" y="4.4">1984</text>
<text class="t" transform="translate(411.10 466.15) rotate(-45)" text-anchor="middle" y="4.4">1985</text>
<text class="t" transform="translate(425.46 466.15) rotate(-45)" text-anchor="middle" y="4.4">1986</text>
<text class="t" transform="translate(439.81 466.15) rotate(-45)" text-anchor="middle" y="4.4">1987</text>
<text class="t" transform="translate(454.16 466.15) rotate(-45)" text-anchor="middle" y="4.4">1988</text>
<text class="t" transform="translate(468.56 466.15) rotate(-45)" text-anchor="middle" y="4.4">1989</text>
<text class="t" transform="translate(482.91 466.15) rotate(-45)" text-anchor="middle" y="4.4">1990</text>
<text class="t" transform="translate(497.27 466.15) rotate(-45)" text-anchor="middle" y="4.4">1991</text>
<text class="t" transform="translate(511.62 466.15) rotate(-45)" text-anchor="middle" y="4.4">1992</text>
<text class="t" transform="translate(526.01 466.15) rotate(-45)" text-anchor="middle" y="4.4">1993</text>
<text class="t" transform="translate(540.37 466.15) rotate(-45)" text-anchor="middle" y="4.4">1994</text>
<text class="t" transform="translate(554.72 466.15) rotate(-45)" text-anchor="middle" y="4.4">1995</text>
<text class="t" transform="translate(569.08 466.15) rotate(-45)" text-anchor="middle" y="4.4">1996</text>
<text class="t" transform="translate(583.47 466.15) rotate(-45)" text-anchor="middle" y="4.4">1997</text>
<text class="t" transform="translate(597.83 466.15) rotate(-45)" text-anchor="middle" y="4.4">1998</text>
<text class="t" transform="translate(612.18 466.15) rotate(-45)" text-anchor="middle" y="4.4">1999</text>
<text class="t" transform="translate(626.53 466.15) rotate(-45)" text-anchor="middle" y="4.4">2000</text>
<text class="t" transform="translate(640.93 466.15) rotate(-45)" text-anchor="middle" y="4.4">2001</text>
<text class="t" transform="translate(655.28 466.15) rotate(-45)" text-anchor="middle" y="4.4">2002</text>
<text class="t" transform="translate(669.64 466.15) rotate(-45)" text-anchor="middle" y="4.4">2003</text>
<text class="t" transform="translate(683.99 466.15) rotate(-45)" text-anchor="middle" y="4.4">2004</text>
<text class="t" transform="translate(698.38 466.15) rotate(-45)" text-anchor="middle" y="4.4">2005</text>
<text class="t" transform="translate(712.74 466.15) rotate(-45)" text-anchor="middle" y="4.4">2006</text>
<text class="t" transform="translate(727.09 466.15) rotate(-45)" text-anchor="middle" y="4.4">2007</text>
<text class="t" transform="translate(741.45 466.15) rotate(-45)" text-anchor="middle" y="4.4">2008</text>
<text class="t" transform="translate(755.84 466.15) rotate(-45)" text-anchor="middle" y="4.4">2009</text>
<text class="t" transform="translate(770.19 466.15) rotate(-45)" text-anchor="middle" y="4.4">2010</text>
<text class="t" transform="translate(784.55 466.15) rotate(-45)" text-anchor="middle" y="4.4">2011</text>
<text class="t" transform="translate(798.90 466.15) rotate(-45)" text-anchor="middle" y="4.4">2012</text>
<text class="t" transform="translate(813.30 466.15) rotate(-45)" text-anchor="middle" y="4.4">2013</text>
<text class="t" transform="translate(827.65 466.15) rotate(-45)" text-anchor="middle" y="4.4">2014</text>
<text class="t" transform="translate(842.01 466.15) rotate(-45)" text-anchor="middle" y="4.4">2015</text>
<text class="t" transform="translate(856.36 466.15) rotate(-45)" text-anchor="middle" y="4.4">2016</text>
<text class="t" transform="translate(870.75 466.15) rotate(-45)" text-anchor="middle" y="4.4">2017</text>
<text class="t" transform="translate(885.11 466.15) rotate(-45)" text-anchor="middle" y="4.4">2018</text>
<text class="t" transform="translate(899.46 466.15) rotate(-45)" text-anchor="middle" y="4.4">2019</text>
<text class="t" transform="translate(913.82 466.15) rotate(-45)" text-anchor="middle" y="4.4">2020</text>
<text class="t" transform="translate(928.21 466.15) rotate(-45)" text-anchor="middle" y="4.4">2021</text>
<text class="t" transform="translate(942.56 466.15) rotate(-45)" text-anchor="middle" y="4.4">2022</text>
<text class="t" transform="translate(956.92 466.15) rotate(-45)" text-anchor="middle" y="4.4">2023</text>
<text class="t" transform="translate(971.27 466.15) rotate(-45)" text-anchor="middle" y="4.4">2024</text>
<text class="t" transform="translate(985.67 466.15) rotate(-45)" text-anchor="middle" y="4.4">2025</text>
<text class="t" transform="translate(1000.02 466.15) rotate(-45)" text-anchor="middle" y="4.4">2026</text>
<text class="b" transform="translate(527.6 23.5) rotate(0.03)" text-anchor="middle" font-size="19.18">US CPI Urban Consumers Less Food &amp; Energy YoY NSA</text>
<text class="b" transform="translate(527.2 53.4) rotate(0.03)" text-anchor="middle" font-size="14.43">Average: 3.71</text>
<text class="b" transform="translate(527.2 72.1) rotate(0.03)" text-anchor="middle" font-size="14.43">High: 13.59 (06/30/1980)</text>
<text class="b" transform="translate(527.6 90.8) rotate(0.03)" text-anchor="middle" font-size="14.43">Low: 0.61 (10/31/2010)</text>
<text class="b" transform="translate(1000.3 79.3) rotate(0.03)" text-anchor="end" font-size="14.43">Jan 2026: 2.50</text>
<text class="b" transform="translate(527.7 499.25) rotate(0.03)" text-anchor="middle" font-size="16.65">Date</text>
<text class="b" transform="translate(21.2 236.7) rotate(-90)" text-anchor="middle" font-size="16.74">Year-over-year, percent</text>
</svg></body></html>
